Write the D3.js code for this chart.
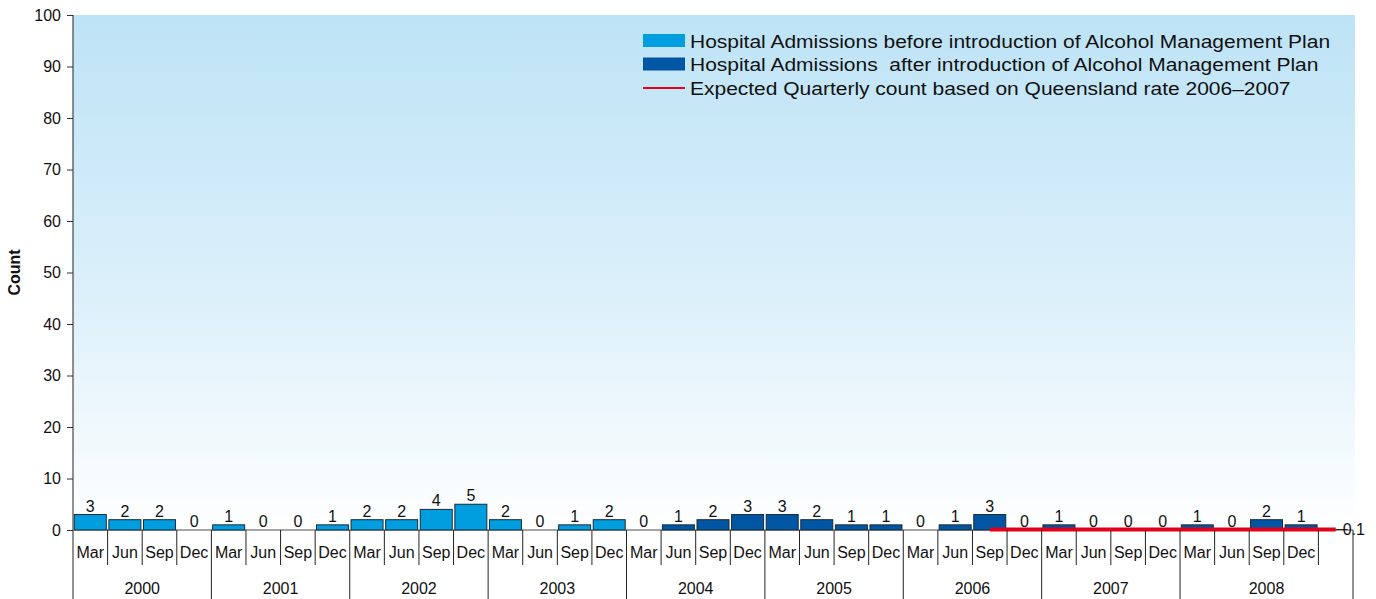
<!DOCTYPE html>
<html lang="en">
<head>
  <meta charset="UTF-8">
  <title>Hospital Admissions - Alcohol Management Plan</title>
  <style>
    body { margin: 0; background: #ffffff; }
    svg { display: block; font-family: "Liberation Sans", Arial, sans-serif; }
    .pre { white-space: pre; }
  </style>
  <script src="https://d3js.org/d3.v7.min.js"></script>
</head>
<body>
  <svg id="chart" width="1376" height="599"></svg>

  <script>
    // quarters 2000 Mar .. 2008 Dec, plus one empty slot at the end
    const years = ['2000', '2001', '2002', '2003', '2004', '2005', '2006', '2007', '2008'];
    const quarters = ['Mar', 'Jun', 'Sep', 'Dec'];

    // before introduction of the plan (2000 Mar - 2004 Mar)
    const beforeValues = [3, 2, 2, 0, 1, 0, 0, 1, 2, 2, 4, 5, 2, 0, 1, 2, 0];
    // after introduction (2004 Jun - 2008 Dec)
    const afterValues = [1, 2, 3, 3, 2, 1, 1, 0, 1, 3, 0, 1, 0, 0, 0, 1, 0, 2, 1];
    // expected quarterly count, from 2006 Sep to the end slot
    const expectedValues = [0.1, 0.1, 0.1, 0.1, 0.1, 0.1, 0.1, 0.1, 0.1, 0.1, 0.1];
    const expectedStart = 26;

    const yTicks = [0, 10, 20, 30, 40, 50, 60, 70, 80, 90, 100];

    const legendLabels = [
      'Hospital Admissions before introduction of Alcohol Management Plan',
      'Hospital Admissions  after introduction of Alcohol Management Plan',
      'Expected Quarterly count based on Queensland rate 2006\u20132007'
    ];

    const colBefore = '#009ddf';
    const colAfter = '#0056a2';
    const colExpected = '#e2001a';
    const FS = 16;

    // build category list
    const cats = [];
    years.forEach(y => quarters.forEach(q => cats.push({ year: y, q: q })));
    cats.push({ year: '2008', q: '' });
    cats.forEach((c, i) => c.id = i);

    const bars = [];
    beforeValues.forEach((v, i) => bars.push({ i: i, v: v, col: colBefore }));
    afterValues.forEach((v, i) => bars.push({ i: beforeValues.length + i, v: v, col: colAfter }));

    const svg = d3.select('#chart');
    const margin = { left: 73, right: 23, top: 15, bottom: 69 };
    const W = 1376, H = 599;
    const plotBottom = H - margin.bottom;

    const x = d3.scaleBand()
      .domain(cats.map(c => c.id))
      .range([margin.left, 1353])
      .paddingInner(0)
      .paddingOuter(0);

    const y = d3.scaleLinear().domain([0, 100]).range([plotBottom, margin.top]);

    // background gradient
    const defs = svg.append('defs');
    const grad = defs.append('linearGradient')
      .attr('id', 'bg').attr('x1', 0).attr('y1', 0).attr('x2', 0).attr('y2', 1);
    grad.append('stop').attr('offset', '0%').attr('stop-color', '#bde3f6');
    grad.append('stop').attr('offset', '55%').attr('stop-color', '#dcf0fa');
    grad.append('stop').attr('offset', '100%').attr('stop-color', '#ffffff');

    svg.append('rect')
      .attr('x', margin.left).attr('y', margin.top)
      .attr('width', 1355 - margin.left).attr('height', plotBottom - margin.top)
      .attr('fill', 'url(#bg)');

    // y axis
    const yAxis = d3.axisLeft(y).tickValues(yTicks).tickSize(6).tickPadding(6);
    const gy = svg.append('g')
      .attr('transform', `translate(${margin.left},0)`)
      .call(yAxis);
    gy.select('.domain').remove();
    gy.selectAll('.tick line').attr('stroke', '#333');
    gy.selectAll('.tick text')
      .attr('font-size', FS).attr('fill', '#111')
      .attr('font-family', '"Liberation Sans", Arial, sans-serif');

    svg.append('line')
      .attr('x1', margin.left).attr('x2', margin.left)
      .attr('y1', margin.top).attr('y2', H)
      .attr('stroke', '#222').attr('stroke-width', 1);

    svg.append('text')
      .attr('transform', `translate(20,${(margin.top + plotBottom) / 2}) rotate(-90)`)
      .attr('text-anchor', 'middle')
      .attr('font-size', 16).attr('font-weight', 'bold').attr('fill', '#111')
      .text('Count');

    // baseline
    svg.append('line')
      .attr('x1', margin.left).attr('x2', 1353)
      .attr('y1', plotBottom).attr('y2', plotBottom)
      .attr('stroke', '#888').attr('stroke-width', 1.5);

    // bars
    const inset = 1.3;
    svg.append('g').selectAll('rect')
      .data(bars.filter(d => d.v > 0))
      .join('rect')
      .attr('x', d => x(d.i) + inset)
      .attr('width', x.bandwidth() - 2 * inset)
      .attr('y', d => y(d.v))
      .attr('height', d => y(0) - y(d.v))
      .attr('fill', d => d.col)
      .attr('stroke', '#1a2a3a')
      .attr('stroke-width', 1);

    // bar value labels
    svg.append('g').selectAll('text')
      .data(bars)
      .join('text')
      .attr('x', d => x(d.i) + x.bandwidth() / 2)
      .attr('y', d => y(d.v) - 3)
      .attr('text-anchor', 'middle')
      .attr('font-size', FS).attr('fill', '#111')
      .text(d => d.v);

    // expected line
    const expData = expectedValues.map((v, k) => ({ i: expectedStart + k, v: v }));
    svg.append('path')
      .datum(expData)
      .attr('fill', 'none')
      .attr('stroke', colExpected)
      .attr('stroke-width', 4)
      .attr('d', d3.line().x(d => x(d.i) + x.bandwidth() / 2).y(d => y(d.v)));

    const lastExp = expData[expData.length - 1];
    const lx = x(lastExp.i) + x.bandwidth() / 2;
    svg.append('line')
      .attr('x1', lx).attr('x2', lx + 12)
      .attr('y1', y(lastExp.v)).attr('y2', y(lastExp.v))
      .attr('stroke', '#222').attr('stroke-width', 1);
    svg.append('text')
      .attr('x', lx + 7).attr('y', y(lastExp.v) + 6)
      .attr('font-size', FS).attr('fill', '#111')
      .text(lastExp.v);

    // category axis: quarter labels and separators
    const gx = svg.append('g');
    gx.selectAll('text.q')
      .data(cats)
      .join('text')
      .attr('class', 'q')
      .attr('x', d => x(d.id) + x.bandwidth() / 2)
      .attr('y', plotBottom + 28)
      .attr('text-anchor', 'middle')
      .attr('font-size', FS).attr('fill', '#111')
      .text(d => d.q);

    gx.selectAll('line.q')
      .data(cats.slice(1))
      .join('line')
      .attr('class', 'q')
      .attr('x1', d => x(d.id)).attr('x2', d => x(d.id))
      .attr('y1', plotBottom)
      .attr('y2', d => (d.q === 'Mar') ? H : plotBottom + 35)
      .attr('stroke', '#222').attr('stroke-width', 1);

    svg.append('line')
      .attr('x1', 1353).attr('x2', 1353)
      .attr('y1', plotBottom).attr('y2', H)
      .attr('stroke', '#222').attr('stroke-width', 1);

    // year labels
    const yearGroups = years.map(yr => {
      const ids = cats.filter(c => c.year === yr).map(c => c.id);
      return { year: yr, x0: x(ids[0]), x1: x(ids[ids.length - 1]) + x.bandwidth() };
    });
    gx.selectAll('text.yr')
      .data(yearGroups)
      .join('text')
      .attr('class', 'yr')
      .attr('x', d => (d.x0 + d.x1) / 2)
      .attr('y', plotBottom + 64)
      .attr('text-anchor', 'middle')
      .attr('font-size', FS).attr('fill', '#111')
      .text(d => d.year);

    // legend
    const lg = svg.append('g').attr('transform', 'translate(643,41)');
    const rowH = 23.5;
    legendLabels.forEach((lab, k) => {
      const row = lg.append('g').attr('transform', `translate(0,${k * rowH})`);
      if (k < 2) {
        row.append('rect')
          .attr('x', 0).attr('y', -7).attr('width', 42).attr('height', 13)
          .attr('fill', k === 0 ? colBefore : colAfter);
      } else {
        row.append('line')
          .attr('x1', 0).attr('x2', 42).attr('y1', 0).attr('y2', 0)
          .attr('stroke', colExpected).attr('stroke-width', 2);
      }
      row.append('text')
        .attr('class', 'pre')
        .attr('transform', `translate(47,${k === 1 ? 6 : 7}) scale(1.135,1)`)
        .attr('font-size', 18.5).attr('fill', '#111')
        .text(lab);
    });
  </script>
</body>
</html>
